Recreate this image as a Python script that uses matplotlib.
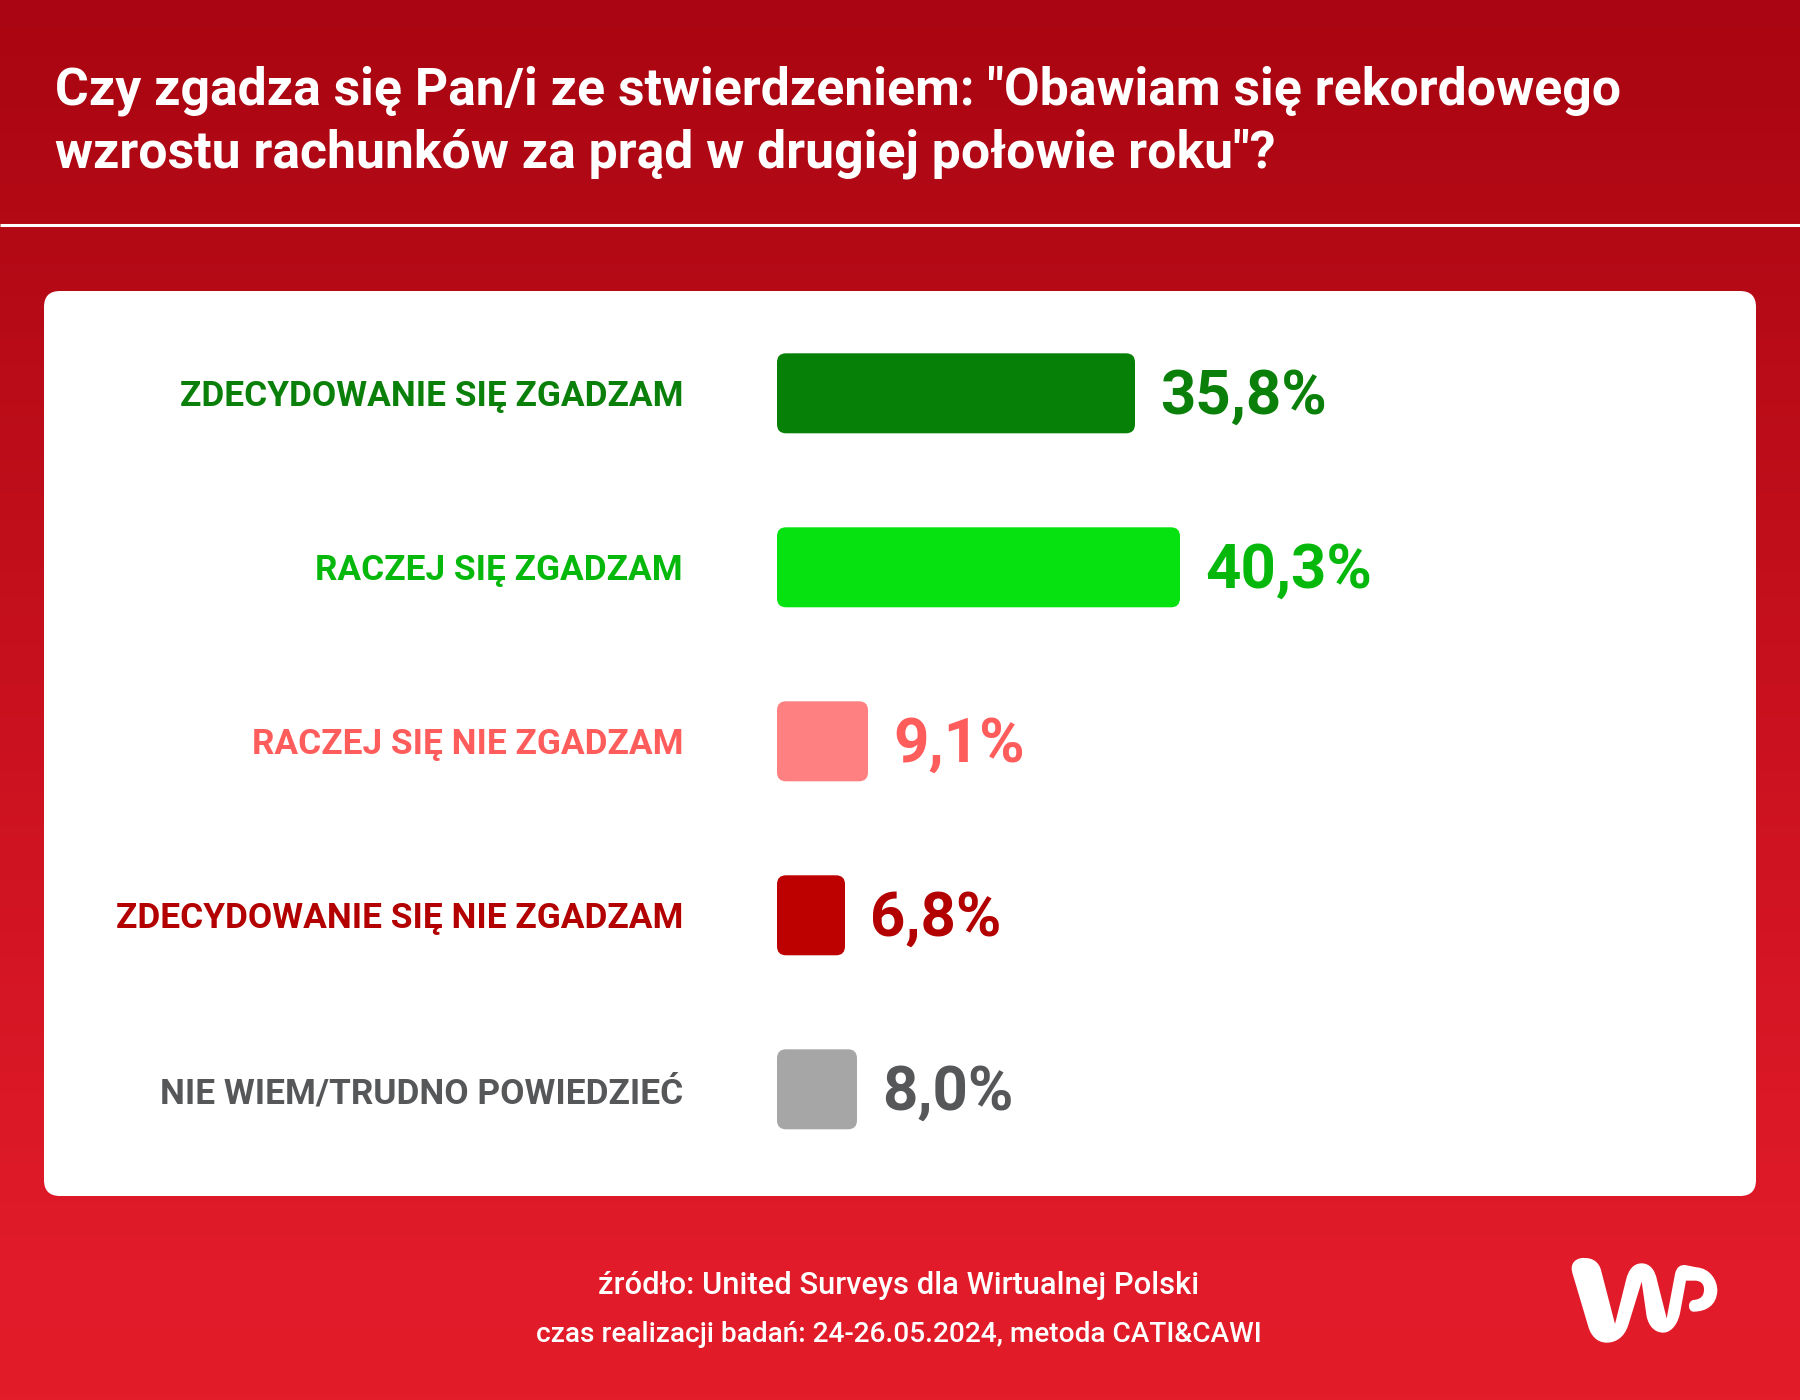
import numpy as np
import matplotlib
matplotlib.use("Agg")
import matplotlib.pyplot as plt
from matplotlib.patches import FancyBboxPatch, PathPatch
from matplotlib.path import Path
from matplotlib.colors import LinearSegmentedColormap

plt.rcParams['font.family'] = ['Roboto', 'DejaVu Sans']

title_lines = ['Czy zgadza się Pan/i ze stwierdzeniem: "Obawiam się rekordowego',
               'wzrostu rachunków za prąd w drugiej połowie roku"?']
categories = ['ZDECYDOWANIE SIĘ ZGADZAM', 'RACZEJ SIĘ ZGADZAM', 'RACZEJ SIĘ NIE ZGADZAM',
              'ZDECYDOWANIE SIĘ NIE ZGADZAM', 'NIE WIEM/TRUDNO POWIEDZIEĆ']
values = [35.8, 40.3, 9.1, 6.8, 8.0]
bar_colors = ['#068006', '#06e210', '#ff8080', '#bd0000', '#a6a6a6']
text_colors = ['#0a800a', '#06b80c', '#ff5c5c', '#b30000', '#555759']
source_lines = ['źródło: United Surveys dla Wirtualnej Polski',
                'czas realizacji badań: 24-26.05.2024, metoda CATI&CAWI']

W, H = 1800, 1400
fig = plt.figure(figsize=(18, 14), dpi=100)

# background, axes in image pixels
bg = fig.add_axes([0, 0, 1, 1])
bg.set_xlim(0, W)
bg.set_ylim(H, 0)
bg.axis('off')
cmap = LinearSegmentedColormap.from_list('wp', [(0, '#aa0512'), (0.15, '#b20915'), (0.55, '#cc1220'),
                                                (0.9, '#e11b29'), (1, '#e31c2a')])
bg.imshow(np.linspace(0, 1, 700)[:, None], cmap=cmap, extent=[0, W, H, 0], aspect='auto', zorder=0)
bg.plot([0, W], [224.5, 224.5], color='white', lw=2.2, solid_capstyle='butt', zorder=1)
bg.add_patch(FancyBboxPatch((44, 291), 1712, 905, boxstyle='round,pad=0,rounding_size=16',
                            fc='white', ec='none', zorder=1))

for i, line in enumerate(title_lines):
    bg.text(55, 91 + i * 63, line, color='white', fontsize=37.3, fontweight='bold', va='center', ha='left')
for i, line in enumerate(source_lines):
    bg.text(899, 1285 + i * 50, line, color='white', fontsize=[22.2, 20.2][i], fontweight='medium',
            va='center', ha='center')

# WP logo
M, C = Path.MOVETO, Path.CURVE4
L = Path.LINETO
logo = [(M, (215, 205)), (C, (215, 180)), (C, (240, 172)), (C, (255, 174)),
        (C, (280, 174)), (C, (297, 188)), (C, (303, 210)),
        (L, (345, 372)), (L, (378, 240)),
        (C, (385, 210)), (C, (400, 190)), (C, (425, 190)),
        (C, (450, 190)), (C, (465, 210)), (C, (471, 240)),
        (L, (500, 355)), (L, (525, 222)),
        (C, (530, 200)), (C, (540, 195)), (C, (555, 195)),
        (L, (590, 202)),
        (C, (630, 205)), (C, (652, 240)), (C, (652, 272)),
        (C, (650, 315)), (C, (620, 335)), (C, (580, 335)),
        (C, (565, 335)), (C, (560, 305)), (C, (580, 300)),
        (C, (605, 298)), (C, (612, 285)), (C, (612, 268)),
        (C, (612, 250)), (C, (600, 242)), (C, (585, 242)),
        (L, (558, 242)), (L, (540, 340)),
        (C, (530, 385)), (C, (505, 398)), (C, (490, 398)),
        (C, (465, 398)), (C, (447, 380)), (C, (440, 350)),
        (L, (425, 245)), (L, (385, 375)),
        (C, (372, 415)), (C, (345, 428)), (C, (320, 428)),
        (C, (290, 428)), (C, (272, 405)), (C, (265, 380)),
        (L, (218, 222)), (C, (216, 215)), (C, (215, 210)), (C, (215, 205))]
codes = [c for c, p in logo]
verts = [(1500 + p[0] / 3, 1200 + p[1] / 3) for c, p in logo]
bg.add_patch(PathPatch(Path(verts, codes), fc='white', ec='none', zorder=2))

# bars: 10 px per percent, 174 px per row
row_px = 174
x0, y_top = 777, 393.3 - row_px / 2
n = len(values)
ax = fig.add_axes([x0 / W, 1 - (y_top + n * row_px) / H, 950 / W, n * row_px / H])
ax.set_xlim(0, 95)
ax.set_ylim(n - 0.5, -0.5)
ax.axis('off')
ax.patch.set_alpha(0)
bar_h = 80 / row_px
aspect = (1 / row_px) / 0.1
for i, (cat, val, bc, tc) in enumerate(zip(categories, values, bar_colors, text_colors)):
    ax.add_patch(FancyBboxPatch((0, i - bar_h / 2), val, bar_h, boxstyle='round,pad=0,rounding_size=0.9',
                                mutation_aspect=aspect, fc=bc, ec='none'))
    ax.text(val + 2.5, i + 0.02, f'{val:.1f}%'.replace('.', ','), color=tc, fontsize=44.5, fontweight='bold',
            va='center', ha='left')
    ax.text(-9.4, i + 0.02, cat, color=tc, fontsize=25.4, fontweight='bold', va='center', ha='right', clip_on=False)

fig.savefig('out.png', dpi=100)
